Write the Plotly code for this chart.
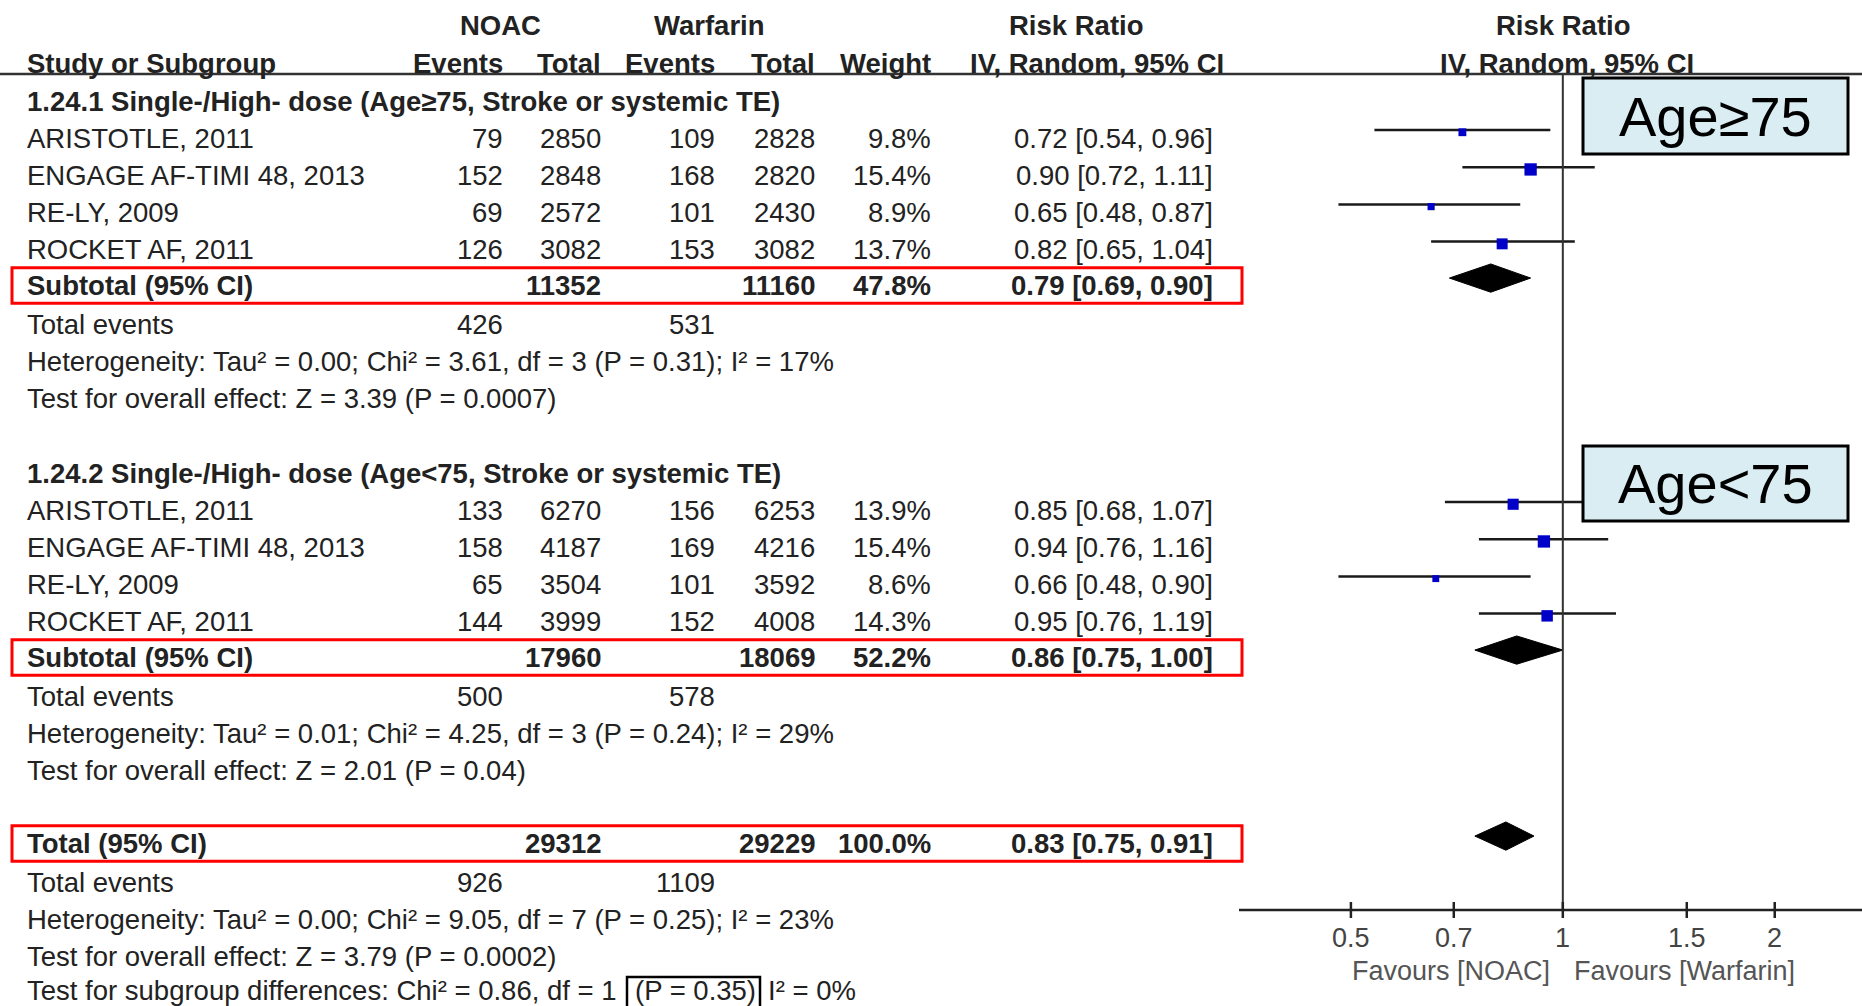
import math
import plotly.graph_objects as go

# ---------------- data ----------------
studies = ["ARISTOTLE, 2011", "ENGAGE AF-TIMI 48, 2013", "RE-LY, 2009", "ROCKET AF, 2011"]

g1_title = "1.24.1 Single-/High- dose (Age≥75, Stroke or systemic TE)"
g1_noac_events = [79, 152, 69, 126]
g1_noac_total = [2850, 2848, 2572, 3082]
g1_war_events = [109, 168, 101, 153]
g1_war_total = [2828, 2820, 2430, 3082]
g1_weight = [9.8, 15.4, 8.9, 13.7]
g1_rr = [0.72, 0.90, 0.65, 0.82]
g1_lo = [0.54, 0.72, 0.48, 0.65]
g1_hi = [0.96, 1.11, 0.87, 1.04]
g1_sub = {"noac_total": 11352, "war_total": 11160, "weight": 47.8, "rr": 0.79, "lo": 0.69, "hi": 0.90,
          "noac_events": 426, "war_events": 531}
g1_het = "Heterogeneity: Tau² = 0.00; Chi² = 3.61, df = 3 (P = 0.31); I² = 17%"
g1_test = "Test for overall effect: Z = 3.39 (P = 0.0007)"

g2_title = "1.24.2 Single-/High- dose (Age<75, Stroke or systemic TE)"
g2_noac_events = [133, 158, 65, 144]
g2_noac_total = [6270, 4187, 3504, 3999]
g2_war_events = [156, 169, 101, 152]
g2_war_total = [6253, 4216, 3592, 4008]
g2_weight = [13.9, 15.4, 8.6, 14.3]
g2_rr = [0.85, 0.94, 0.66, 0.95]
g2_lo = [0.68, 0.76, 0.48, 0.76]
g2_hi = [1.07, 1.16, 0.90, 1.19]
g2_sub = {"noac_total": 17960, "war_total": 18069, "weight": 52.2, "rr": 0.86, "lo": 0.75, "hi": 1.00,
          "noac_events": 500, "war_events": 578}
g2_het = "Heterogeneity: Tau² = 0.01; Chi² = 4.25, df = 3 (P = 0.24); I² = 29%"
g2_test = "Test for overall effect: Z = 2.01 (P = 0.04)"

tot = {"noac_total": 29312, "war_total": 29229, "weight": 100.0, "rr": 0.83, "lo": 0.75, "hi": 0.91,
       "noac_events": 926, "war_events": 1109}
tot_het = "Heterogeneity: Tau² = 0.00; Chi² = 9.05, df = 7 (P = 0.25); I² = 23%"
tot_test = "Test for overall effect: Z = 3.79 (P = 0.0002)"
subgroup_test = ["Test for subgroup differences: Chi² = 0.86, df = 1", "(P = 0.35)", "I² = 0%"]

tick_vals = [0.5, 0.7, 1, 1.5, 2]
tick_text = ["0.5", "0.7", "1", "1.5", "2"]
label_left = "Favours [NOAC]"
label_right = "Favours [Warfarin]"
box_labels = ["Age≥75", "Age<75"]

# ---------------- layout helpers ----------------
W, H = 1862, 1006
Y0, DY = 101.0, 37.2          # pixel of row 0, row spacing


def px_to_row(p):
    return (p - Y0) / DY


def xp(p):
    return p / W


FONT = "Liberation Sans, Arial, sans-serif"
TXT = "#222222"
FS = 27.5

ann = []


def txt(x, r, s, anchor="left", bold=False, size=FS, color=TXT):
    ann.append(dict(x=xp(x), y=r, xref="paper", yref="y", text=(f"<b>{s}</b>" if bold else s),
                    showarrow=False, xanchor=anchor, yanchor="middle",
                    font=dict(family=FONT, size=size, color=color)))


# column right edges (px)
C_NAME = 25
C_NE, C_NT, C_WE, C_WT, C_WG, C_CI = 505, 603, 717, 817, 933, 1215

# headers
txt(500, -2.04, "NOAC", "center", True)
txt(709, -2.04, "Warfarin", "center", True)
txt(1076, -2.04, "Risk Ratio", "center", True)
txt(1563, -2.04, "Risk Ratio", "center", True)
txt(C_NAME, -1.0, "Study or Subgroup", "left", True)
txt(C_NE, -1.0, "Events", "right", True)
txt(C_NT, -1.0, "Total", "right", True)
txt(C_WE, -1.0, "Events", "right", True)
txt(C_WT, -1.0, "Total", "right", True)
txt(C_WG, -1.0, "Weight", "right", True)
txt(1097, -1.0, "IV, Random, 95% CI", "center", True)
txt(1567, -1.0, "IV, Random, 95% CI", "center", True)

fig = go.Figure()
shapes = []
MARK_OFF = -0.22
DIA_H = 0.38


def summary(r, label, d):
    rt = r - 0.04
    txt(C_NAME, rt, label, "left", True)
    txt(C_NT, rt, str(d["noac_total"]), "right", True)
    txt(C_WT, rt, str(d["war_total"]), "right", True)
    txt(C_WG, rt, f"{d['weight']:.1f}%", "right", True)
    txt(C_CI, rt, f"{d['rr']:.2f} [{d['lo']:.2f}, {d['hi']:.2f}]", "right", True)
    ry = rt - 0.2
    fig.add_trace(go.Scatter(x=[d["lo"], d["rr"], d["hi"], d["rr"], d["lo"]],
                             y=[ry, ry - DIA_H, ry, ry + DIA_H, ry], mode="lines", fill="toself",
                             fillcolor="black", line=dict(color="black", width=1),
                             showlegend=False, hoverinfo="skip"))
    # red highlight box
    shapes.append(dict(type="rect", xref="paper", yref="y", x0=xp(12), x1=xp(1242),
                       y0=rt - 0.48, y1=rt + 0.48, line=dict(color="#ff0000", width=3)))


def group(start, title, ne, nt, we, wt, wg, rr, lo, hi, sub, het, test):
    txt(C_NAME, start, title, "left", True)
    for i, s in enumerate(studies):
        r = start + 1 + i
        txt(C_NAME, r, s)
        txt(C_NE, r, str(ne[i]), "right")
        txt(C_NT, r, str(nt[i]), "right")
        txt(C_WE, r, str(we[i]), "right")
        txt(C_WT, r, str(wt[i]), "right")
        txt(C_WG, r, f"{wg[i]:.1f}%", "right")
        txt(C_CI, r, f"{rr[i]:.2f} [{lo[i]:.2f}, {hi[i]:.2f}]", "right")
        ry = r + MARK_OFF
        fig.add_trace(go.Scatter(x=[lo[i], hi[i]], y=[ry, ry], mode="lines",
                                 line=dict(color="#1a1a1a", width=2.5), showlegend=False, hoverinfo="skip"))
        fig.add_trace(go.Scatter(x=[rr[i]], y=[ry + 0.06], mode="markers",
                                 marker=dict(symbol="square", color="#0000c8", size=wg[i] * 0.8,
                                             line=dict(width=0)),
                                 showlegend=False, hoverinfo="skip"))
    rs = start + 5
    summary(rs, "Subtotal (95% CI)", sub)
    txt(C_NAME, rs + 1, "Total events")
    txt(C_NE, rs + 1, str(sub["noac_events"]), "right")
    txt(C_WE, rs + 1, str(sub["war_events"]), "right")
    txt(C_NAME, rs + 2, het)
    txt(C_NAME, rs + 3, test)


group(0, g1_title, g1_noac_events, g1_noac_total, g1_war_events, g1_war_total, g1_weight,
      g1_rr, g1_lo, g1_hi, g1_sub, g1_het, g1_test)
group(10, g2_title, g2_noac_events, g2_noac_total, g2_war_events, g2_war_total, g2_weight,
      g2_rr, g2_lo, g2_hi, g2_sub, g2_het, g2_test)

summary(20, "Total (95% CI)", tot)
txt(C_NAME, 21, "Total events")
txt(C_NE, 21, str(tot["noac_events"]), "right")
txt(C_WE, 21, str(tot["war_events"]), "right")
txt(C_NAME, 22, tot_het)
txt(C_NAME, 23, tot_test)
txt(C_NAME, 23.92, subgroup_test[0])
txt(633, 23.92, subgroup_test[1])
txt(766, 23.92, subgroup_test[2])
# box round (P = 0.35)
shapes.append(dict(type="rect", xref="paper", yref="y", x0=xp(627), x1=xp(760),
                   y0=px_to_row(977), y1=px_to_row(1012), line=dict(color="black", width=2.5)))

# header rule
shapes.append(dict(type="line", xref="paper", yref="y", x0=0, x1=1, y0=px_to_row(74), y1=px_to_row(74),
                   line=dict(color="#333", width=2.5)))
# line of no effect
AX_Y = 910
shapes.append(dict(type="line", xref="x", yref="y", x0=1, x1=1, y0=px_to_row(74), y1=px_to_row(AX_Y),
                   line=dict(color="#333", width=2)))
# axis line + ticks
shapes.append(dict(type="line", xref="paper", yref="y", x0=xp(1239), x1=1, y0=px_to_row(AX_Y),
                   y1=px_to_row(AX_Y), line=dict(color="#222", width=2.5)))
for tv, tt in zip(tick_vals, tick_text):
    shapes.append(dict(type="line", xref="x", yref="y", x0=tv, x1=tv, y0=px_to_row(AX_Y - 8),
                       y1=px_to_row(AX_Y + 8), line=dict(color="#222", width=2.5)))
    ann.append(dict(x=math.log10(tv), y=px_to_row(938), xref="x", yref="y", text=tt,
                    showarrow=False, xanchor="center", yanchor="middle",
                    font=dict(family=FONT, size=27, color="#444")))
ann.append(dict(x=xp(1552), y=px_to_row(971), xref="paper", yref="y", text=label_left, showarrow=False,
                xanchor="right", yanchor="middle", font=dict(family=FONT, size=27, color="#555")))
ann.append(dict(x=xp(1572), y=px_to_row(971), xref="paper", yref="y", text=label_right, showarrow=False,
                xanchor="left", yanchor="middle", font=dict(family=FONT, size=27, color="#555")))

# Age boxes
for lab, (t, b) in zip(box_labels, [(78, 154), (446, 521)]):
    shapes.append(dict(type="rect", xref="paper", yref="y", x0=xp(1583), x1=xp(1848),
                       y0=px_to_row(t), y1=px_to_row(b), fillcolor="#daedf2",
                       line=dict(color="black", width=3), layer="above"))
    ann.append(dict(x=xp(1715), y=px_to_row((t + b) / 2), xref="paper", yref="y", text=lab, showarrow=False,
                    xanchor="center", yanchor="middle", font=dict(family=FONT, size=56, color="black")))

fig.update_layout(
    width=W, height=H, margin=dict(l=0, r=0, t=0, b=0),
    paper_bgcolor="white", plot_bgcolor="white",
    xaxis=dict(type="log", domain=[1239 / W, 1], range=[-0.460, 0.425], showgrid=False, zeroline=False,
               showticklabels=False, ticks="", showline=False, fixedrange=True),
    yaxis=dict(range=[px_to_row(H), px_to_row(0)], domain=[0, 1], showgrid=False, zeroline=False,
               showticklabels=False, ticks="", showline=False, fixedrange=True),
    shapes=shapes, annotations=ann, showlegend=False,
)
fig.write_html("out.html")
